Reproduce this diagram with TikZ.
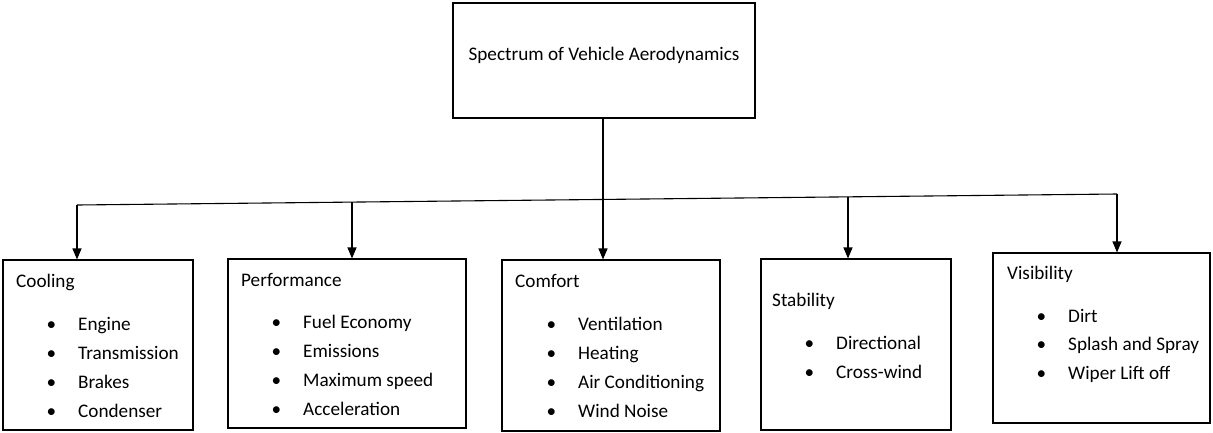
\documentclass[tikz,border=0pt]{standalone}
\usepackage{fontspec}
\setmainfont{Carlito}
\usetikzlibrary{arrows.meta}
\tikzset{
  box/.style={draw, line width=1.1pt, inner sep=0pt},
  headtxt/.style={anchor=base west, inner sep=0pt, font=\fontsize{19.2}{23}\selectfont},
  itemtxt/.style={headtxt},
  line/.style={line width=1.1pt},
  arr/.style={line width=1.1pt, -{Triangle[length=11pt,width=9pt]}},
}
\newcommand{\bul}{\makebox[0pt][r]{\textbullet\hspace{22pt}}}

\begin{document}
\begin{tikzpicture}[x=1pt,y=-1pt]
  \useasboundingbox (0,0) rectangle (1213,432);
  % Top box
  \node[box, minimum width=302pt, minimum height=115pt] (spec) at (604,60.5) {};
  \node[headtxt, anchor=base] (specT) at (604,60) {Spectrum of Vehicle Aerodynamics};
  % Category boxes
  \node[box, minimum width=190pt, minimum height=170pt] (cool) at (98,345) {};
  \node[box, minimum width=238pt, minimum height=169pt] (perf) at (347,343.5) {};
  \node[box, minimum width=218pt, minimum height=171pt] (comf) at (611,345.5) {};
  \node[box, minimum width=190pt, minimum height=171pt] (stab) at (856,344.5) {};
  \node[box, minimum width=217pt, minimum height=170pt] (visi) at (1101.5,338) {};
  % Cooling
  \node[headtxt] (coolH) at (16,287) {Cooling};
  \foreach \t [count=\i] in {Engine,Transmission,Brakes,Condenser}
    \node[itemtxt] (coolI\i) at (78,330+29*\i-29) {\bul\t};
  % Performance
  \node[headtxt] (perfH) at (241,286) {Performance};
  \foreach \t [count=\i] in {Fuel Economy,Emissions,Maximum speed,Acceleration}
    \node[itemtxt] (perfI\i) at (303,328+29*\i-29) {\bul\t};
  % Comfort
  \node[headtxt] (comfH) at (515,287) {Comfort};
  \foreach \t [count=\i] in {Ventilation,Heating,Air Conditioning,Wind Noise}
    \node[itemtxt] (comfI\i) at (578,330+29*\i-29) {\bul\t};
  % Stability
  \node[headtxt] (stabH) at (772,306) {Stability};
  \foreach \t [count=\i] in {Directional,Cross-wind}
    \node[itemtxt] (stabI\i) at (836,349+29*\i-29) {\bul\t};
  % Visibility
  \node[headtxt] (visiH) at (1007,279) {Visibility};
  \foreach \t [count=\i] in {Dirt,Splash and Spray,Wiper Lift off}
    \node[itemtxt] (visiI\i) at (1068,322+28.5*\i-28.5) {\bul\t};
  % Bus
  \coordinate (bus1) at (77,205);
  \coordinate (bus2) at (352,202.1);
  \coordinate (bus3) at (603,199.4);
  \coordinate (bus4) at (848,196.9);
  \coordinate (bus5) at (1117,194);
  \draw[line] (bus1) -- (bus5);
  \draw[line] (bus3 |- spec.south) -- (bus3);
  \draw[arr] (bus1) -- (bus1 |- cool.north);
  \draw[arr] (bus2) -- (bus2 |- perf.north);
  \draw[arr] (bus3) -- (bus3 |- comf.north);
  \draw[arr] (bus4) -- (bus4 |- stab.north);
  \draw[arr] (bus5) -- (bus5 |- visi.north);
\end{tikzpicture}
\end{document}
